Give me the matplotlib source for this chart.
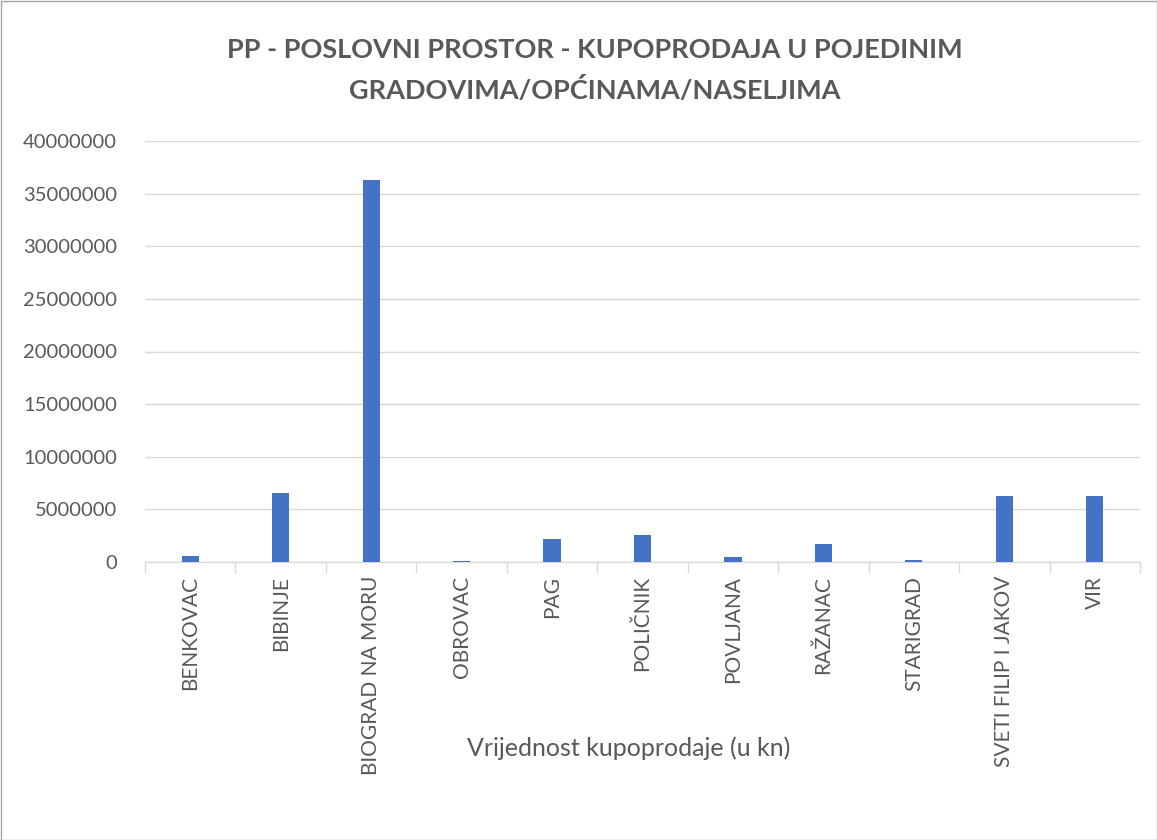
import matplotlib
matplotlib.use("Agg")
import matplotlib.pyplot as plt
import numpy as np
from matplotlib.patches import Rectangle

categories = ["BENKOVAC", "BIBINJE", "BIOGRAD NA MORU", "OBROVAC", "PAG", "POLIČNIK",
              "POVLJANA", "RAŽANAC", "STARIGRAD", "SVETI FILIP I JAKOV", "VIR"]
values = [600000, 6600000, 36250000, 80000, 2200000, 2600000,
          520000, 1750000, 220000, 6260000, 6260000]
yticks = [0, 5000000, 10000000, 15000000, 20000000, 25000000, 30000000, 35000000, 40000000]

plt.rcParams['font.family'] = ['Lato', 'DejaVu Sans']
W, H = 1157, 840
fig = plt.figure(figsize=(W/100, H/100), dpi=100)
fig.patches.append(Rectangle((0.5/W, 0.5/H), 1-1/W, 1-1/H, transform=fig.transFigure,
                             fill=False, edgecolor='#a6a6a6', linewidth=1.0))

ax = fig.add_axes([145/W, 1-562/H, (1140-145)/W, (562-141)/H])
x = np.arange(len(categories))
ax.bar(x, values, width=0.19, color='#4472c4', zorder=3)
ax.set_xlim(-0.5, len(categories)-0.5)
ax.set_ylim(0, 40000000)
ax.set_yticks(yticks)
ax.set_yticklabels([str(v) for v in yticks], fontsize=14.5, color='#595959')
ax.yaxis.grid(True, color='#d9d9d9', linewidth=1.0, zorder=0)
ax.tick_params(axis='y', length=0, pad=20)
for s in ['top', 'right', 'left']:
    ax.spines[s].set_visible(False)
ax.spines['bottom'].set_color('#d9d9d9')
ax.spines['bottom'].set_linewidth(1.0)
ax.set_xticks(x)
ax.set_xticklabels(categories, rotation=90, fontsize=15, color='#595959')
ax.tick_params(axis='x', length=0, pad=10)
ax.set_xticks(np.arange(len(categories)+1)-0.5, minor=True)
ax.tick_params(axis='x', which='minor', length=8, color='#d9d9d9', width=1.0)

fig.text(595/W, 1-50/H, "PP - POSLOVNI PROSTOR - KUPOPRODAJA U POJEDINIM",
         ha='center', va='center', fontsize=19.5, fontweight='bold', color='#595959')
fig.text(595/W, 1-90/H, "GRADOVIMA/OPĆINAMA/NASELJIMA",
         ha='center', va='center', fontsize=19.5, fontweight='bold', color='#595959')
fig.text(629/W, 1-748/H, "Vrijednost kupoprodaje (u kn)",
         ha='center', va='center', fontsize=18, color='#595959')

fig.savefig("out.png", dpi=100)
